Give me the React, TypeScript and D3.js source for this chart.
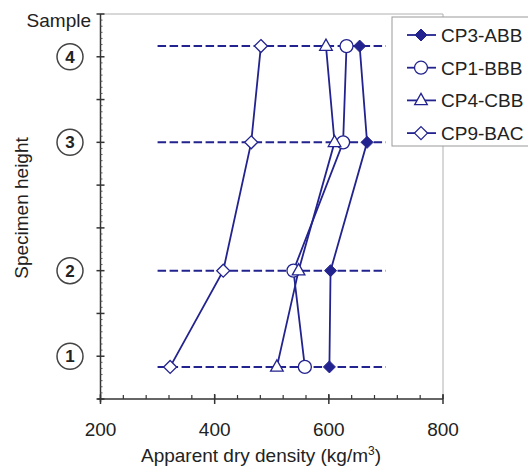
import React from "react";
import * as d3 from "d3";

const heights = [0.75, 3, 6, 8.25];
const sampleLabels = ["1", "2", "3", "4"];
const sampleLabelPos = [1, 3, 6, 8];
const seriesNames = ["CP3-ABB", "CP1-BBB", "CP4-CBB", "CP9-BAC"];
const cp3 = [601, 603, 667, 654];
const cp1 = [558, 538, 625, 631];
const cp4 = [509, 547, 610, 595];
const cp9 = [322, 415, 464, 481];
const xTicks = [200, 400, 600, 800];
const dashRange = [300, 700];

const W = 528, H = 468;
const BLUE = "#23238f";
const FONT = "Liberation Sans, Arial, sans-serif";

function Marker({ kind, x, y }: { kind: string; x: number; y: number }) {
  if (kind === "filledDiamond") {
    const r = 6;
    return <path d={`M${x},${y - r}L${x + r},${y}L${x},${y + r}L${x - r},${y}Z`} fill={BLUE} stroke={BLUE} strokeWidth={1} />;
  }
  if (kind === "circle") {
    return <circle cx={x} cy={y} r={6.5} fill="white" stroke={BLUE} strokeWidth={1.3} />;
  }
  if (kind === "triangle") {
    const r = 7;
    return <path d={`M${x},${y - r}L${x + r * 0.9},${y + r * 0.6}L${x - r * 0.9},${y + r * 0.6}Z`} fill="white" stroke={BLUE} strokeWidth={1.3} />;
  }
  const r = 6.5;
  return <path d={`M${x},${y - r}L${x + r},${y}L${x},${y + r}L${x - r},${y}Z`} fill="white" stroke={BLUE} strokeWidth={1.3} />;
}

export default function App() {
  const x = d3.scaleLinear().domain([200, 800]).range([100.5, 443]);
  const y = d3.scaleLinear().domain([0, 9]).range([399, 14]);
  const series = [
    { name: seriesNames[0], vals: cp3, kind: "filledDiamond" },
    { name: seriesNames[1], vals: cp1, kind: "circle" },
    { name: seriesNames[2], vals: cp4, kind: "triangle" },
    { name: seriesNames[3], vals: cp9, kind: "diamond" },
  ];
  const line = d3.line<[number, number]>().x((d) => x(d[0])).y((d) => y(d[1]));
  const xMinor = d3.range(200, 801, 40);
  const yMajor = d3.range(0, 10, 1);
  const yMinor: number[] = [];
  for (let i = 0; i < 9; i++) for (let j = 1; j < 7; j++) yMinor.push(i + j / 7);
  const x0 = x(200), x1 = x(800), y0 = y(0), y1 = y(9);
  return (
    <svg width={W} height={H} style={{ position: "absolute", left: 0, top: 0, background: "white" }} fontFamily={FONT}>
      {/* frame */}
      <line x1={x0} x2={x1} y1={y1} y2={y1} stroke="#b0b0b0" strokeWidth={1} />
      <line x1={x1} x2={x1} y1={y1} y2={y0} stroke="#b0b0b0" strokeWidth={1} />
      {/* y axis */}
      <line x1={x0} x2={x0} y1={y1} y2={y0 + 3} stroke="#333" strokeWidth={1.5} />
      {yMajor.map((v) => (
        <line key={"ym" + v} x1={x0 - 4} x2={x0 + 4} y1={y(v)} y2={y(v)} stroke="#333" strokeWidth={1.5} />
      ))}
      {yMinor.map((v, i) => (
        <line key={"yn" + i} x1={x0} x2={x0 + 2} y1={y(v)} y2={y(v)} stroke="#555" strokeWidth={1} />
      ))}
      {/* x axis */}
      <line x1={x0 - 3} x2={x1} y1={y0} y2={y0} stroke="#333" strokeWidth={1.5} />
      {xMinor.map((v) => (
        <line key={"xn" + v} x1={x(v)} x2={x(v)} y1={y0} y2={y0 - 4} stroke="#333" strokeWidth={1.2} />
      ))}
      {xTicks.map((v) => (
        <g key={"xt" + v}>
          <line x1={x(v)} x2={x(v)} y1={y0 - 5} y2={y0 + 5} stroke="#333" strokeWidth={1.5} />
          <text x={x(v)} y={436} textAnchor="middle" fontSize={19} fill="#222">{v}</text>
        </g>
      ))}
      {/* circled sample labels */}
      {sampleLabels.map((s, i) => (
        <g key={"sl" + s}>
          <circle cx={70} cy={y(sampleLabelPos[i])} r={13} fill="white" stroke="#444" strokeWidth={1.5} />
          <text x={70} y={y(sampleLabelPos[i]) + 6} textAnchor="middle" fontSize={17} fontWeight="bold" fill="#222">{s}</text>
        </g>
      ))}
      <text x={91} y={27} textAnchor="end" fontSize={19} fill="#222">Sample</text>
      <text transform={`translate(28,${208}) rotate(-90)`} textAnchor="middle" fontSize={19} fill="#222">Specimen height</text>
      <text x={261} y={462} textAnchor="middle" fontSize={19} fill="#222">
        Apparent dry density (kg/m<tspan dy={-7} fontSize={12}>3</tspan><tspan dy={7}>)</tspan>
      </text>
      {/* dashed lines */}
      {heights.map((h, i) => (
        <line key={"dl" + i} x1={x(dashRange[0])} x2={x(dashRange[1])} y1={y(h)} y2={y(h)} stroke={BLUE} strokeWidth={2} strokeDasharray="8.5,3.5" />
      ))}
      {/* series lines */}
      {series.map((s) => (
        <path key={"p" + s.name} d={line(s.vals.map((v, i) => [v, heights[i]] as [number, number])) || ""} fill="none" stroke={BLUE} strokeWidth={1.8} />
      ))}
      {series.map((s) =>
        s.vals.map((v, i) => <Marker key={s.name + i} kind={s.kind} x={x(v)} y={y(heights[i])} />)
      )}
      {/* legend */}
      <rect x={392} y={17} width={140} height={129} fill="white" stroke="#999" strokeWidth={1} />
      {series.map((s, i) => {
        const ly = 35 + i * 32.7;
        return (
          <g key={"lg" + s.name}>
            <line x1={407} x2={436} y1={ly} y2={ly} stroke={BLUE} strokeWidth={1.8} />
            <Marker kind={s.kind} x={421} y={ly} />
            <text x={441} y={ly + 7} fontSize={19} fill="#222">{s.name}</text>
          </g>
        );
      })}
    </svg>
  );
}
